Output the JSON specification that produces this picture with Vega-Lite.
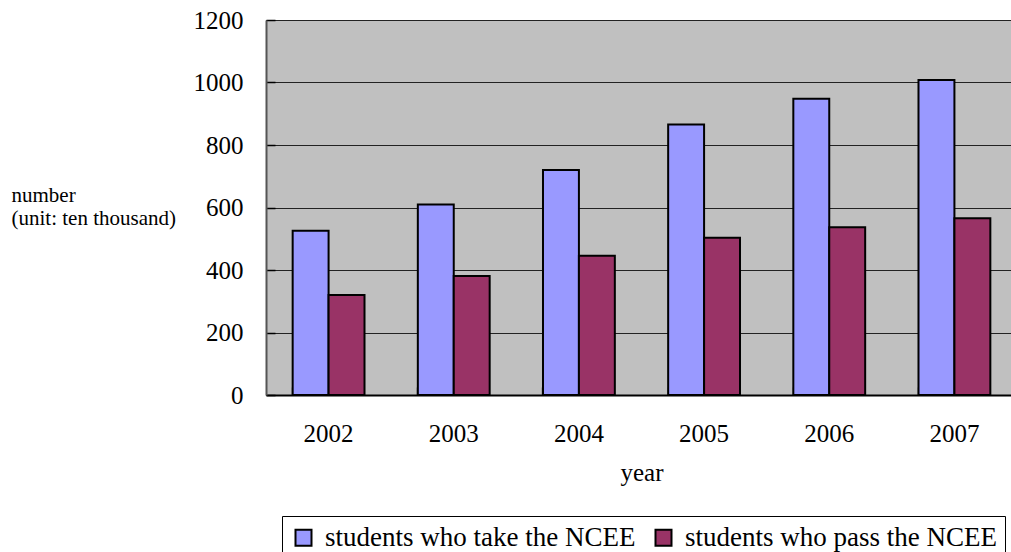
{
  "$schema": "https://vega.github.io/schema/vega-lite/v6.json",
  "autosize": {"type": "none"},
  "padding": {"left": 266, "top": 20, "right": 0, "bottom": 157},
  "width": 751,
  "height": 375,
  "background": "white",
  "config": {
    "font": "Liberation Serif",
    "view": {"fill": "#C0C0C0", "stroke": "#808080", "strokeWidth": 1}
  },
  "data": {
    "values": [
      {"year": "2002", "series": "students who take the NCEE", "value": 526},
      {"year": "2002", "series": "students who pass the NCEE", "value": 320},
      {"year": "2003", "series": "students who take the NCEE", "value": 610},
      {"year": "2003", "series": "students who pass the NCEE", "value": 381},
      {"year": "2004", "series": "students who take the NCEE", "value": 720},
      {"year": "2004", "series": "students who pass the NCEE", "value": 446},
      {"year": "2005", "series": "students who take the NCEE", "value": 866},
      {"year": "2005", "series": "students who pass the NCEE", "value": 503},
      {"year": "2006", "series": "students who take the NCEE", "value": 948},
      {"year": "2006", "series": "students who pass the NCEE", "value": 537},
      {"year": "2007", "series": "students who take the NCEE", "value": 1008},
      {"year": "2007", "series": "students who pass the NCEE", "value": 566}
    ]
  },
  "mark": {"type": "bar", "stroke": "black", "strokeWidth": 2},
  "encoding": {
    "x": {
      "field": "year",
      "type": "nominal",
      "scale": {"paddingInner": 0.426, "paddingOuter": 0.213},
      "axis": {
        "title": "year",
        "titleFont": "Liberation Serif",
        "titleFontSize": 25,
        "titleFontWeight": "normal",
        "titleColor": "black",
        "titlePadding": 14,
        "labelAngle": 0,
        "labelFont": "Liberation Serif",
        "labelFontSize": 25,
        "labelColor": "black",
        "labelPadding": 34,
        "bandPosition": 0,
        "tickSize": -8,
        "tickColor": "#555555",
        "tickWidth": 1.5,
        "domainColor": "black",
        "domainWidth": 2,
        "grid": false
      }
    },
    "xOffset": {
      "field": "series",
      "type": "nominal",
      "sort": "descending",
      "scale": {"paddingInner": 0, "paddingOuter": 0}
    },
    "y": {
      "field": "value",
      "type": "quantitative",
      "scale": {"domain": [0, 1200], "nice": false},
      "axis": {
        "values": [0, 200, 400, 600, 800, 1000, 1200],
        "format": "d",
        "title": ["number", "\u00a0(unit: ten thousand)"],
        "titleAngle": 0,
        "titleAlign": "left",
        "titleBaseline": "top",
        "titleX": -255,
        "titleY": 164,
        "titleFont": "Liberation Serif",
        "titleFontSize": 21,
        "titleFontWeight": "normal",
        "titleColor": "black",
        "titleLineHeight": 23,
        "labelFont": "Liberation Serif",
        "labelFontSize": 25,
        "labelColor": "black",
        "labelPadding": 32,
        "tickSize": -9,
        "tickColor": "black",
        "tickWidth": 1.5,
        "domainColor": "#555555",
        "domainWidth": 2,
        "grid": true,
        "gridColor": "#222222",
        "gridWidth": 1.2
      }
    },
    "color": {
      "field": "series",
      "type": "nominal",
      "scale": {"domain": ["students who take the NCEE", "students who pass the NCEE"], "range": ["#9999FF", "#993366"]},
      "legend": {
        "title": null,
        "orient": "none",
        "direction": "horizontal",
        "legendX": 16,
        "legendY": 496,
        "symbolType": "square",
        "symbolSize": 256,
        "symbolStrokeColor": "black",
        "symbolStrokeWidth": 2,
        "symbolOpacity": 1,
        "labelFont": "Liberation Serif",
        "labelFontSize": 27,
        "labelColor": "black",
        "labelLimit": 500,
        "labelOffset": 8,
        "columnPadding": 14,
        "strokeColor": "black",
        "padding": 8
      }
    }
  }
}
